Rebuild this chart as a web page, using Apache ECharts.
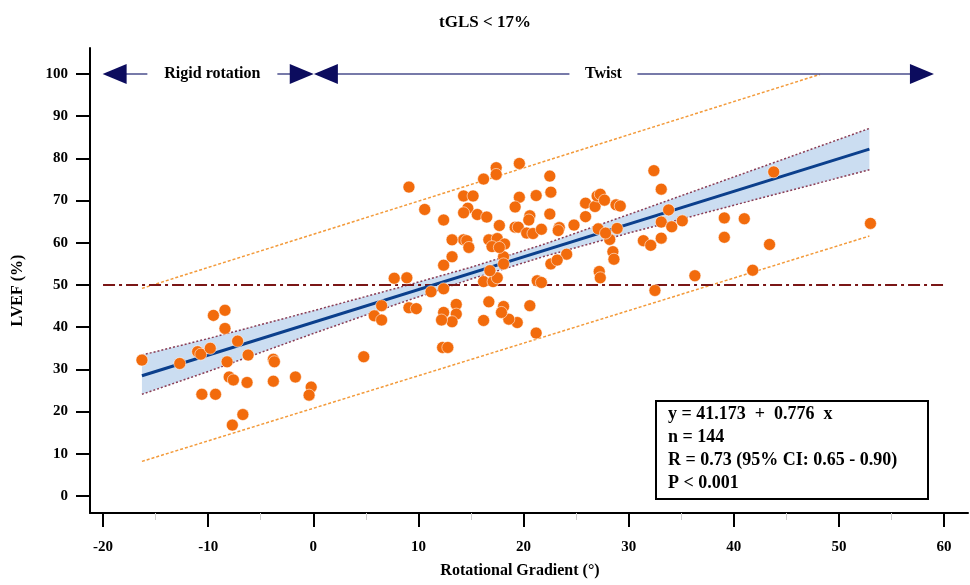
<!DOCTYPE html>
<html>
<head>
<meta charset="utf-8">
<script src="https://cdn.jsdelivr.net/npm/echarts@6.0.0/dist/echarts.min.js"></script>
<style>
html, body { margin: 0; padding: 0; background: #fff; }
#chart { width: 970px; height: 585px; }
</style>
</head>
<body>
<div id="chart"></div>
<script>
var FONT = '"Liberation Serif", "Times New Roman", serif';

// axis ticks
var xTicks = [-20, -10, 0, 10, 20, 30, 40, 50, 60];
var xMinorTicks = [-15, -5, 5, 15, 25, 35, 45, 55];
var yTicks = [0, 10, 20, 30, 40, 50, 60, 70, 80, 90, 100];

// rotational gradient (deg), LVEF (%)
var lvefPoints = [
  [-16.3, 32.2], [-12.7, 31.4], [-11.0, 34.2], [-10.7, 33.6], [-9.8, 35.0], [-9.5, 42.8],
  [-8.4, 44.0], [-8.4, 39.7], [-7.2, 36.7], [-8.2, 31.8], [-6.2, 33.4], [-8.0, 28.2],
  [-7.6, 27.5], [-10.6, 24.1], [-9.3, 24.1], [-6.3, 26.9], [-3.8, 32.4], [-3.7, 31.8],
  [-3.8, 27.2], [-1.7, 28.2], [-0.2, 25.8], [-0.4, 23.9], [-6.7, 19.3], [-7.7, 16.8],
  [9.1, 73.2], [10.6, 67.9], [12.4, 65.4], [14.3, 71.1], [15.2, 71.1], [14.7, 68.2],
  [14.3, 67.1], [15.6, 66.7], [16.5, 66.1], [16.2, 75.1], [17.4, 77.8], [17.4, 76.2],
  [19.6, 78.8], [22.5, 75.8], [22.6, 72.0], [19.6, 70.8], [21.2, 71.2], [19.2, 68.5],
  [20.6, 66.4], [20.5, 65.4], [22.5, 66.8], [17.7, 64.1], [19.2, 63.7], [19.5, 63.7],
  [20.3, 62.3], [20.9, 62.2], [21.7, 63.2], [23.4, 63.6], [23.3, 62.9], [24.8, 64.2],
  [25.9, 69.4], [25.9, 66.2], [26.8, 68.6], [27.0, 71.1], [27.3, 71.5], [27.7, 70.1],
  [28.8, 69.0], [29.2, 68.7], [27.1, 63.3], [28.2, 60.8], [27.8, 62.3], [28.9, 63.4],
  [28.5, 57.9], [28.6, 56.1], [27.2, 53.2], [27.3, 51.7], [31.4, 60.5], [24.1, 57.3],
  [22.6, 55.0], [23.2, 55.9], [21.3, 51.0], [21.7, 50.6], [20.6, 45.1], [21.2, 38.6],
  [19.4, 41.1], [18.6, 41.9], [18.1, 44.9], [17.9, 43.5], [16.7, 46.0], [16.2, 41.6],
  [16.2, 50.8], [17.1, 50.8], [17.5, 51.7], [16.8, 53.4], [18.1, 56.7], [18.1, 55.0],
  [16.7, 60.7], [17.5, 61.0], [18.2, 59.7], [17.0, 59.1], [17.7, 58.9], [14.3, 60.7],
  [14.6, 60.5], [14.8, 58.9], [13.2, 60.7], [13.2, 56.7], [12.4, 54.7], [12.4, 49.1],
  [11.2, 48.4], [8.9, 51.7], [7.7, 51.6], [6.5, 45.1], [5.8, 42.7], [6.5, 41.7],
  [9.1, 44.6], [9.8, 44.4], [13.6, 45.4], [13.6, 43.1], [13.2, 41.3], [12.4, 43.5],
  [12.2, 41.7], [12.3, 35.2], [12.8, 35.2], [4.8, 33.0],
  [32.4, 77.1], [33.1, 72.7], [43.8, 76.8], [33.8, 67.8], [33.1, 64.9], [34.1, 63.8],
  [35.1, 65.2], [39.1, 65.9], [41.0, 65.7], [53.0, 64.6], [32.1, 59.4], [33.1, 61.1],
  [39.1, 61.3], [43.4, 59.6], [36.3, 52.2], [41.8, 53.5], [32.5, 48.7]
];

// regression line and its 95% confidence band
var fitLine = [[-16.3, 28.5], [52.9, 82.2]];
var bandX = [-16.3, -10, 0, 8, 15, 22, 30, 40, 52.9];
var bandUpper = [33.4, 37.3, 43.9, 49.3, 54.2, 59.7, 66.7, 75.6, 87.1];
var bandLower = [24.1, 29.5, 38.5, 45.5, 51.4, 56.8, 62.3, 68.9, 77.3];

// prediction interval lines
var predUpper = [[-16.3, 49.2], [48.2, 99.9]];
var predLower = [[-16.3, 8.2], [52.9, 61.6]];

// LVEF cut-off
var cutoffLine = [[-20, 50], [60, 50]];

// zone arrows along the top (tip positions)
var arrowY = 100;
var rigidArrow = [-20, 0];
var twistArrow = [0.1, 59];
var zoneLabels = ['Rigid rotation', 'Twist'];
var zoneLabelX = [-9.6, 27.6];
var zoneLabelWidth = [130, 68];
var arrowHalf = 1.1; // half an arrowhead length, in x units

var statsLines = ['y = 41.173  +  0.776  x', 'n = 144', 'R = 0.73 (95% CI: 0.65 - 0.90)', 'P < 0.001'];

function zip(xs, ys) {
  return xs.map(function (x, i) { return [x, ys[i]]; });
}

function arrowSegments() {
  return [rigidArrow, twistArrow].map(function (a) {
    return [{ coord: [a[0] + arrowHalf, arrowY] }, { coord: [a[1] - arrowHalf, arrowY] }];
  });
}

var chart = echarts.init(document.getElementById('chart'));

var option = {
  animation: false,
  backgroundColor: '#ffffff',
  title: {
    text: 'tGLS < 17%',
    left: 'center',
    top: 9,
    textStyle: { fontFamily: FONT, fontWeight: 'bold', fontSize: 17, color: '#000' }
  },
  grid: { left: 90, right: 2, top: 48, bottom: 72, containLabel: false, outerBoundsMode: 'none' },
  xAxis: [{
    type: 'value',
    min: -21.24,
    max: 62.28,
    position: 'bottom',
    name: 'Rotational Gradient (°)',
    nameLocation: 'middle',
    nameGap: 50,
    nameTextStyle: { fontFamily: FONT, fontWeight: 'bold', fontSize: 16, color: '#000', padding: [0, 18, 0, 0] },
    axisLine: { show: true, onZero: false, lineStyle: { color: '#000', width: 2 } },
    axisTick: { show: true, customValues: xTicks, length: 14, lineStyle: { color: '#000', width: 2 } },
    axisLabel: { customValues: xTicks, margin: 27, fontFamily: FONT, fontWeight: 'bold', fontSize: 15, color: '#000' },
    splitLine: { show: false }
  }, {
    type: 'value',
    min: -21.24,
    max: 62.28,
    position: 'bottom',
    axisLine: { show: false, onZero: false },
    axisTick: { show: true, customValues: xMinorTicks, length: 7, lineStyle: { color: '#cfcfcf', width: 1 } },
    axisLabel: { show: false },
    splitLine: { show: false }
  }],
  yAxis: {
    type: 'value',
    min: -4.03,
    max: 106.16,
    name: 'LVEF (%)',
    nameLocation: 'middle',
    nameGap: 64,
    nameTextStyle: { fontFamily: FONT, fontWeight: 'bold', fontSize: 16, color: '#000', padding: [0, 20, 0, 0] },
    axisLine: { show: true, onZero: false, lineStyle: { color: '#000', width: 2 } },
    axisTick: { show: true, customValues: yTicks, length: 14, lineStyle: { color: '#000', width: 2 } },
    axisLabel: { customValues: yTicks, margin: 22, fontFamily: FONT, fontWeight: 'bold', fontSize: 15, color: '#000' },
    splitLine: { show: false }
  },
  series: [
    {
      name: 'band',
      type: 'custom',
      data: [0],
      silent: true,
      z: 1,
      renderItem: function (params, api) {
        var pts = bandX.map(function (x, i) { return api.coord([x, bandUpper[i]]); });
        for (var i = bandX.length - 1; i >= 0; i--) {
          pts.push(api.coord([bandX[i], bandLower[i]]));
        }
        return { type: 'polygon', shape: { points: pts }, style: { fill: '#cbddf1' } };
      }
    },
    {
      name: 'bandUpper',
      type: 'line',
      data: zip(bandX, bandUpper),
      symbol: 'none',
      lineStyle: { color: '#8a3d55', width: 1.5, type: [2, 2] },
      z: 2
    },
    {
      name: 'bandLower',
      type: 'line',
      data: zip(bandX, bandLower),
      symbol: 'none',
      lineStyle: { color: '#8a3d55', width: 1.5, type: [2, 2] },
      z: 2
    },
    {
      name: 'predUpper',
      type: 'line',
      data: predUpper,
      symbol: 'none',
      lineStyle: { color: '#f39a3a', width: 1.5, type: [3, 2] },
      z: 2
    },
    {
      name: 'predLower',
      type: 'line',
      data: predLower,
      symbol: 'none',
      lineStyle: { color: '#f39a3a', width: 1.5, type: [3, 2] },
      z: 2
    },
    {
      name: 'cutoff',
      type: 'line',
      data: cutoffLine,
      symbol: 'none',
      lineStyle: { color: '#7a1616', width: 2, type: [12, 4, 3, 4] },
      z: 2,
      // arrow shafts
      markLine: {
        silent: true,
        symbol: ['none', 'none'],
        label: { show: false },
        lineStyle: { color: '#4a4e8c', width: 1.6, type: 'solid' },
        data: arrowSegments()
      },
      // zone labels with white backing over the shafts
      markPoint: {
        silent: true,
        symbol: 'rect',
        itemStyle: { color: '#ffffff' },
        label: { show: true, position: 'inside', fontFamily: FONT, fontWeight: 'bold', fontSize: 16, color: '#000' },
        data: zoneLabels.map(function (t, i) {
          return { name: t, coord: [zoneLabelX[i], arrowY], symbolSize: [zoneLabelWidth[i], 20], label: { formatter: t } };
        })
      }
    },
    {
      name: 'fit',
      type: 'line',
      data: fitLine,
      symbol: 'none',
      lineStyle: { color: '#0b3f8c', width: 3 },
      z: 3,
      // arrow heads (line hidden, only the end symbols drawn)
      markLine: {
        silent: true,
        symbol: ['triangle', 'triangle'],
        symbolSize: [20, 24],
        label: { show: false },
        lineStyle: { color: '#0c0c5e', width: 0, type: 'solid' },
        data: arrowSegments()
      }
    },
    {
      name: 'LVEF',
      type: 'scatter',
      data: lvefPoints,
      symbolSize: 12,
      itemStyle: { color: '#f26b0c', borderColor: 'rgba(255,255,255,0.55)', borderWidth: 1, opacity: 1 },
      z: 4
    }
  ],
  graphic: [
    {
      type: 'rect',
      left: 655,
      top: 400,
      shape: { width: 272, height: 98 },
      style: { fill: '#ffffff', stroke: '#000', lineWidth: 2 },
      z: 100
    },
    {
      type: 'text',
      left: 668,
      top: 403,
      style: { text: statsLines.join('\n'), font: 'bold 18px ' + FONT, lineHeight: 23, fill: '#000' },
      z: 101
    }
  ]
};

chart.setOption(option);
</script>
</body>
</html>
